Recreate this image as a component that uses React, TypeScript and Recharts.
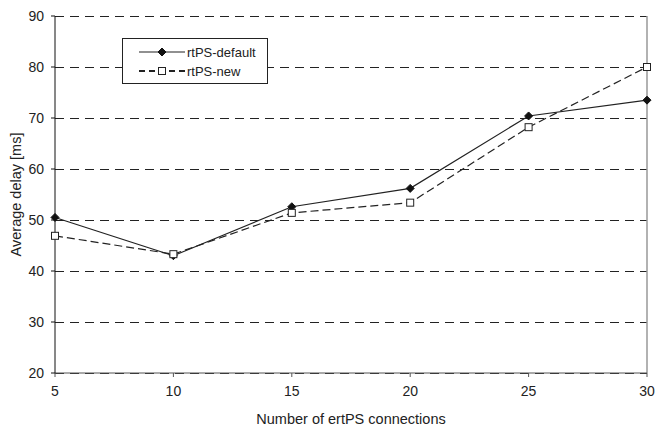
import React from "react";
import {
  LineChart,
  Line,
  XAxis,
  YAxis,
  CartesianGrid,
  ReferenceLine,
  Label,
} from "recharts";

// ertPS connections vs average delay
const connections = [5, 10, 15, 20, 25, 30];
const rtpsDefault = [50.5, 43.0, 52.6, 56.2, 70.4, 73.5];
const rtpsNew = [46.9, 43.3, 51.4, 53.4, 68.2, 80.0];
const yTicks = [20, 30, 40, 50, 60, 70, 80, 90];
const seriesNames = ["rtPS-default", "rtPS-new"];

const data = connections.map((c, i) => ({
  n: c,
  def: rtpsDefault[i],
  nw: rtpsNew[i],
}));

const FONT = "'Liberation Sans', Arial, sans-serif";
const tickStyle = { fill: "#222", fontSize: 14, fontFamily: FONT };
const labelStyle = { fill: "#222", fontSize: 14.5, fontFamily: FONT };

function Diamond({ cx, cy }: { cx?: number; cy?: number }) {
  if (cx == null || cy == null) return null;
  const r = 4;
  return (
    <polygon
      points={`${cx},${cy - r} ${cx + r},${cy} ${cx},${cy + r} ${cx - r},${cy}`}
      fill="#111"
      stroke="#111"
    />
  );
}

function Square({ cx, cy }: { cx?: number; cy?: number }) {
  if (cx == null || cy == null) return null;
  return <rect x={cx - 3.5} y={cy - 3.5} width={7} height={7} fill="#fff" stroke="#222" strokeWidth={1} />;
}

// legend box sits inside the plot, top-left
function LegendBox() {
  return (
    <div
      style={{
        position: "absolute",
        left: 122,
        top: 38,
        border: "1px solid #222",
        background: "#fff",
        width: 146,
        height: 46,
        boxSizing: "border-box",
      }}
    >
      <svg width={144} height={44} style={{ display: "block" }}>
        <line x1={16} y1={13} x2={62} y2={13} stroke="#222" strokeWidth={1.2} />
        <Diamond cx={39} cy={13} />
        <text x={64} y={17.5} style={{ fontSize: 13, fontFamily: FONT, fill: "#222" }}>
          {seriesNames[0]}
        </text>
        <line x1={16} y1={32} x2={62} y2={32} stroke="#222" strokeWidth={1.8} strokeDasharray="6 4" />
        <Square cx={39} cy={32} />
        <text x={64} y={36.5} style={{ fontSize: 13, fontFamily: FONT, fill: "#222" }}>
          {seriesNames[1]}
        </text>
      </svg>
    </div>
  );
}

export default function App() {
  return (
    <div style={{ position: "absolute", left: 0, top: 0, width: 658, height: 429, background: "#fff" }}>
      <LineChart width={658} height={429} data={data} margin={{ top: 16, right: 11, bottom: 0, left: 0 }}>
        <CartesianGrid vertical={false} stroke="#222" strokeDasharray="9 6" shapeRendering="crispEdges" />
        <XAxis
          dataKey="n"
          type="number"
          domain={[5, 30]}
          ticks={connections}
          tick={tickStyle}
          tickSize={4}
          tickMargin={9}
          stroke="#555"
          height={56}
        >
          <Label value="Number of ertPS connections" position="insideBottom" offset={5} style={labelStyle} />
        </XAxis>
        <YAxis
          domain={[20, 90]}
          ticks={yTicks}
          tick={tickStyle}
          tickSize={4}
          tickMargin={7}
          stroke="#111"
          width={55}
          allowDataOverflow
        >
          <Label
            value="Average delay [ms]"
            angle={-90}
            position="insideLeft"
            offset={16}
            style={{ ...labelStyle, textAnchor: "middle" }}
          />
        </YAxis>
        <ReferenceLine x={30} stroke="#999" strokeWidth={1.5} />
        <Line
          dataKey="def"
          name={seriesNames[0]}
          stroke="#222"
          strokeWidth={1.2}
          dot={<Diamond />}
          activeDot={false}
          isAnimationActive={false}
        />
        <Line
          dataKey="nw"
          name={seriesNames[1]}
          stroke="#222"
          strokeWidth={1.2}
          strokeDasharray="8 4"
          dot={<Square />}
          activeDot={false}
          isAnimationActive={false}
        />
      </LineChart>
      <LegendBox />
    </div>
  );
}
